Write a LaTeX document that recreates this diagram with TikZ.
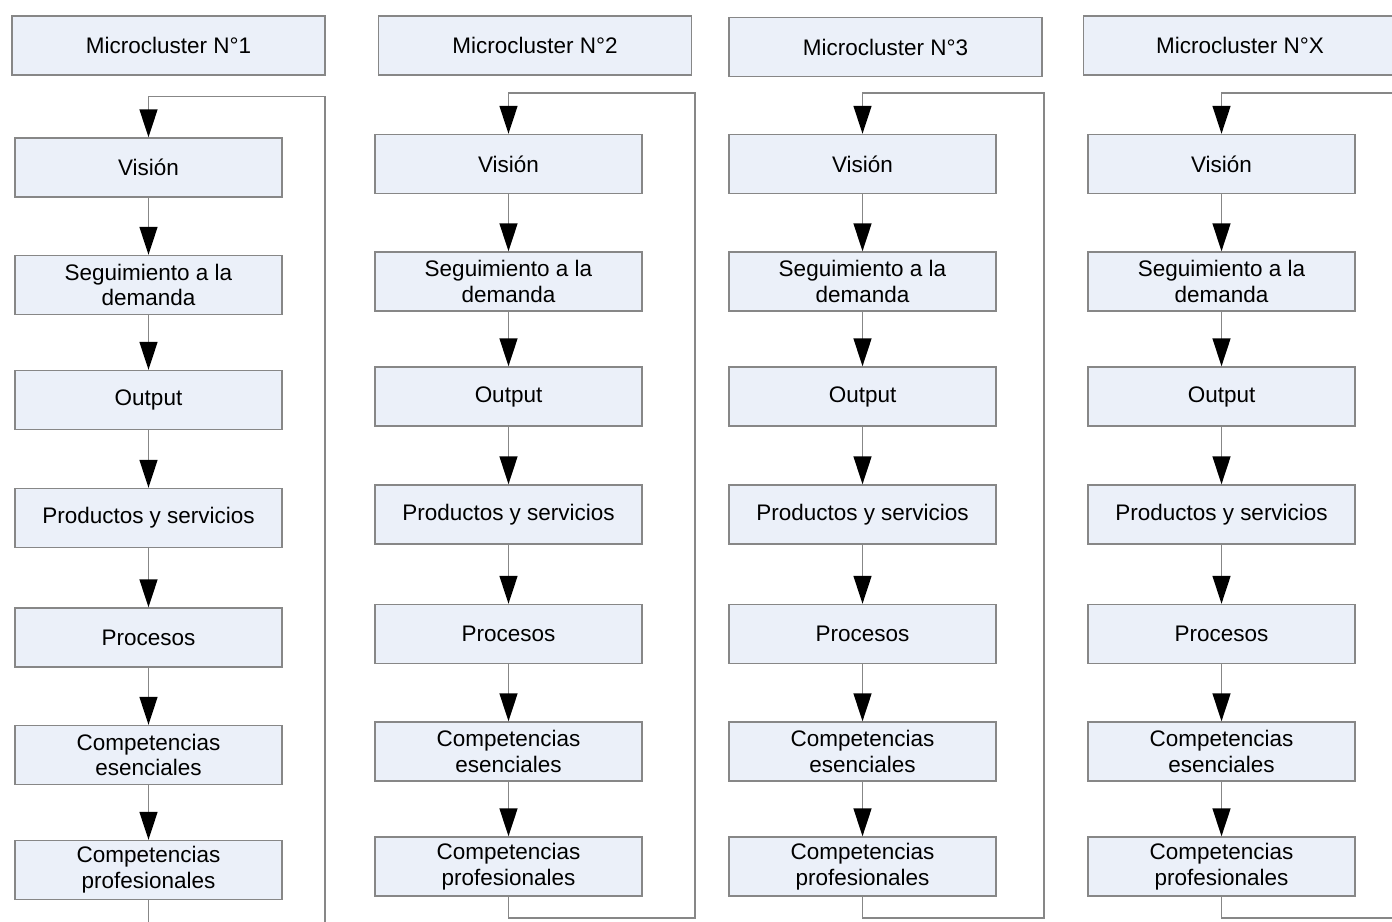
\documentclass[tikz,border=0pt]{standalone}
\usepackage{fontspec}
\setmainfont{Liberation Sans}
\usetikzlibrary{arrows.meta}
\tikzset{>={Triangle[length=0.56cm,width=0.36cm,black]}}
\definecolor{boxfill}{RGB}{235,240,249}
\definecolor{boxline}{RGB}{135,135,135}

\begin{document}
\begin{tikzpicture}[x=0.02cm,y=-0.02cm,
    bloque/.style={draw=boxline, line width=0.8pt, fill=boxfill, inner sep=0pt,
      minimum width=5.34cm, minimum height=1.18cm, align=center,
      font=\fontsize{12.8}{14.7}\selectfont},
    cabecera/.style={bloque, minimum width=6.26cm},
    flujo/.style={draw=boxline, line width=0.8pt, ->}]
  \clip (0,0) rectangle (1392,922);
  % una columna por microcluster
  \foreach \c/\n/\hx/\hy/\x/\dy/\xr/\yb in {1/1/168.5/45.5/148.5/3.5/325/940,
      2/2/535/45.5/508.5/0/695/918, 3/3/885.5/47/862.5/0/1044/918,
      4/X/1240/45.5/1221.5/0/1420/918}{
    \node[cabecera] (h\c) at (\hx,\hy) {Microcluster N°\n};
    \node[bloque] (v\c) at (\x,164+\dy) {Visión};
    \node[bloque] (s\c) at (\x,281.5+\dy) {Seguimiento a la\\demanda};
    \node[bloque] (o\c) at (\x,396.5+\dy) {Output};
    \node[bloque] (p\c) at (\x,514.5+\dy) {Productos y servicios};
    \node[bloque] (r\c) at (\x,634+\dy) {Procesos};
    \node[bloque] (e\c) at (\x,751.5+\dy) {Competencias\\esenciales};
    \node[bloque] (f\c) at (\x,866.5+\dy) {Competencias\\profesionales};
    \draw[flujo] (v\c) -- (s\c);
    \draw[flujo] (s\c) -- (o\c);
    \draw[flujo] (o\c) -- (p\c);
    \draw[flujo] (p\c) -- (r\c);
    \draw[flujo] (r\c) -- (e\c);
    \draw[flujo] (e\c) -- (f\c);
    % retorno
    \coordinate (b\c) at (\xr,\yb);
    \coordinate (t\c) at (\xr,93+\dy);
    \draw[flujo] (f\c.south) |- (b\c) -- (t\c) -| (v\c.north);
  }
\end{tikzpicture}
\end{document}
